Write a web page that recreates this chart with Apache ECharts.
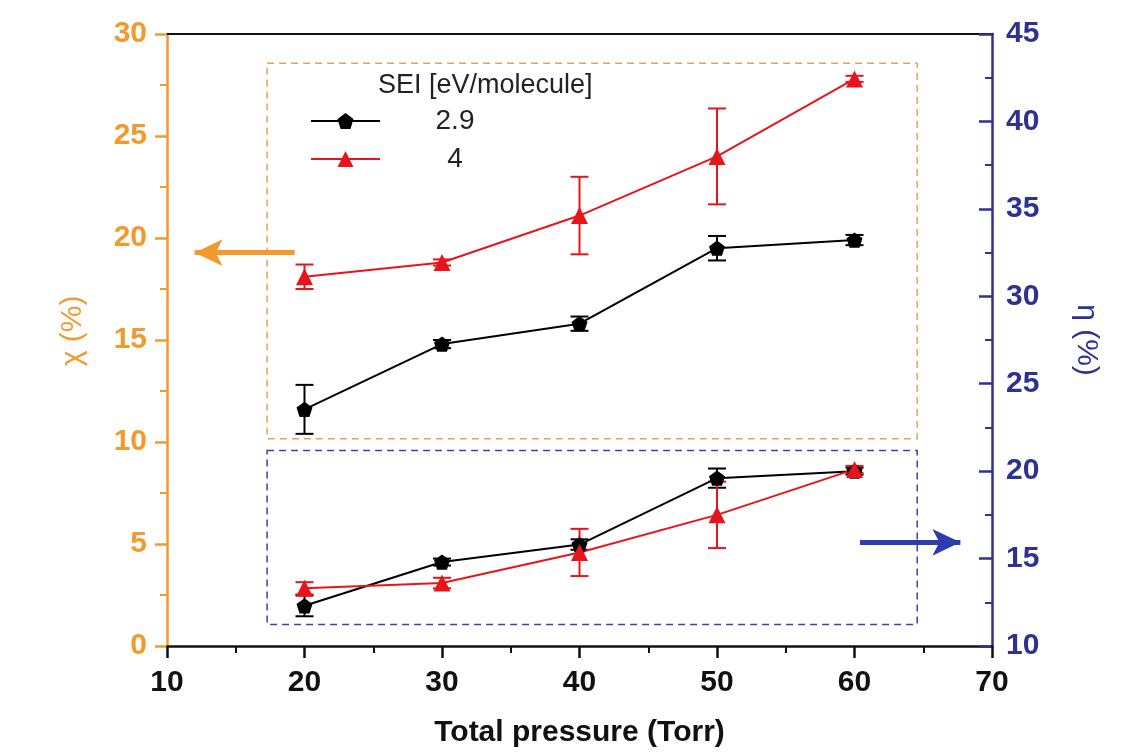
<!DOCTYPE html>
<html>
<head>
<meta charset="utf-8">
<script src="https://cdn.jsdelivr.net/npm/echarts@6/dist/echarts.min.js"></script>
<style>html,body{margin:0;padding:0;background:#fff}#c{width:1140px;height:753px}</style>
</head>
<body>
<div id="c"></div>
<script>
// ---- data ----
const pressure = [20, 30, 40, 50, 60];
const xTicks = [10, 20, 30, 40, 50, 60, 70];
const chiTicks = [0, 5, 10, 15, 20, 25, 30];
const etaTicks = [10, 15, 20, 25, 30, 35, 40, 45];
const seriesNames = ['2.9', '4'];
const chi29 = [11.6, 14.8, 15.8, 19.5, 19.9];
const chi29Err = [1.2, 0.2, 0.35, 0.6, 0.25];
const chi4 = [18.1, 18.8, 21.1, 24.0, 27.8];
const chi4Err = [0.6, 0.15, 1.9, 2.35, 0.15];
const eta29 = [12.3, 14.8, 15.8, 19.6, 20.0];
const eta29Err = [0.6, 0.2, 0.3, 0.55, 0.2];
const eta4 = [13.3, 13.6, 15.35, 17.5, 20.1];
const eta4Err = [0.35, 0.3, 1.35, 1.9, 0.2];
// annotation boxes / arrows in data units (x, left axis y)
const chiBox = [[17.28, 28.57], [64.56, 10.16]];
const etaBox = [[17.28, 9.58], [64.56, 1.06]];
const leftArrow = [[19.29, 19.28], [12.01, 19.28]];
const rightArrow = [[60.4, 5.08], [67.7, 5.08]];

const ORANGE = '#F39A2E';
const BLUE = '#2E3192';
const RED = '#E8141C';
const FONT = 'Liberation Sans, Arial, sans-serif';
const pentagon = 'path://M0,-10 L9.51,-3.09 L5.88,8.09 L-5.88,8.09 L-9.51,-3.09 Z';

function errSeries(vals, errs, color, yIdx) {
  return {
    type: 'custom', name: 'err', yAxisIndex: yIdx, z: 2, silent: true,
    data: pressure.map((p, i) => [p, vals[i], errs[i]]),
    encode: { x: 0, y: 1 },
    renderItem: function (params, api) {
      const x = api.value(0), y = api.value(1), e = api.value(2);
      const t = api.coord([x, y + e]), b = api.coord([x, y - e]);
      const hw = 9;
      const st = { stroke: color, lineWidth: 2 };
      return { type: 'group', children: [
        { type: 'line', shape: { x1: t[0], y1: t[1], x2: b[0], y2: b[1] }, style: st },
        { type: 'line', shape: { x1: t[0] - hw, y1: t[1], x2: t[0] + hw, y2: t[1] }, style: st },
        { type: 'line', shape: { x1: b[0] - hw, y1: b[1], x2: b[0] + hw, y2: b[1] }, style: st }
      ]};
    }
  };
}

function lineSeries(name, vals, color, yIdx, symbol, size, extra) {
  return Object.assign({
    type: 'line', name: name, yAxisIndex: yIdx, z: 3,
    data: pressure.map((p, i) => [p, vals[i]]),
    symbol: symbol, symbolSize: size, symbolKeepAspect: true,
    lineStyle: { color: color, width: 2 },
    itemStyle: { color: color, borderWidth: 0 },
    emphasis: { disabled: true }
  }, extra || {});
}

const chart = echarts.init(document.getElementById('c'), null, { renderer: 'canvas' });
chart.setOption({
  animation: false,
  backgroundColor: '#fff',
  textStyle: { fontFamily: FONT },
  grid: { left: 167, right: 148, top: 34, bottom: 106 },
  title: {
    text: 'SEI [eV/molecule]', left: 373, top: 67,
    textStyle: { fontFamily: FONT, fontSize: 27, fontWeight: 'normal', color: '#222' }
  },
  legend: {
    data: seriesNames, orient: 'vertical', left: 305, top: 102,
    itemWidth: 69, itemHeight: 20, itemGap: 10,
    formatter: '{a|{name}}',
    textStyle: { rich: { a: { width: 140, align: 'center', fontSize: 28, lineHeight: 22, color: '#222', fontFamily: FONT } } }
  },
  xAxis: [{
    type: 'value', min: 10, max: 70, interval: 10,
    name: 'Total pressure (Torr)', nameLocation: 'middle', nameGap: 72,
    nameTextStyle: { fontSize: 30, fontWeight: 'bold', color: '#111', fontFamily: FONT },
    axisLine: { lineStyle: { color: '#111', width: 2.5 } },
    axisTick: { show: true, length: 12, lineStyle: { color: '#111', width: 2.5 } },
    minorTick: { show: true, splitNumber: 2, length: 7, lineStyle: { color: '#111', width: 2 } },
    axisLabel: { fontSize: 30, fontWeight: 'bold', color: '#111', margin: 22, fontFamily: FONT,
      formatter: v => xTicks.includes(v) ? String(v) : '' },
    splitLine: { show: false }
  }, {
    type: 'value', min: 10, max: 70, position: 'top',
    axisLine: { show: true, onZero: false, lineStyle: { color: '#111', width: 2 } },
    axisTick: { show: false }, axisLabel: { show: false }, splitLine: { show: false }
  }],
  yAxis: [{
    type: 'value', min: 0, max: 30, interval: 5, position: 'left',
    name: 'χ (%)', nameLocation: 'middle', nameRotate: 90, nameGap: 79,
    nameTextStyle: { fontSize: 30, color: ORANGE, fontFamily: FONT, padding: [0, 0, 0, 18] },
    axisLine: { show: true, lineStyle: { color: ORANGE, width: 2.5 } },
    axisTick: { show: true, length: 12, lineStyle: { color: ORANGE, width: 2.5 } },
    minorTick: { show: true, splitNumber: 2, length: 7, lineStyle: { color: ORANGE, width: 2 } },
    axisLabel: { fontSize: 30, fontWeight: 'bold', color: ORANGE, margin: 20, fontFamily: FONT,
      formatter: v => chiTicks.includes(v) ? String(v) : '' },
    splitLine: { show: false }
  }, {
    type: 'value', min: 10, max: 45, interval: 5, position: 'right',
    name: 'η (%)', nameLocation: 'middle', nameRotate: -90, nameGap: 79,
    nameTextStyle: { fontSize: 30, color: BLUE, fontFamily: FONT },
    axisLine: { show: true, lineStyle: { color: BLUE, width: 2.5 } },
    axisTick: { show: true, inside: true, length: 13, lineStyle: { color: BLUE, width: 2.5 } },
    minorTick: { show: true, splitNumber: 2, length: 7, lineStyle: { color: BLUE, width: 2 } },
    axisLabel: { fontSize: 30, fontWeight: 'bold', color: BLUE, margin: 14, fontFamily: FONT,
      formatter: v => etaTicks.includes(v) ? String(v) : '' },
    splitLine: { show: false }
  }],
  series: [
    errSeries(chi29, chi29Err, '#000', 0),
    errSeries(chi4, chi4Err, RED, 0),
    errSeries(eta29, eta29Err, '#000', 1),
    errSeries(eta4, eta4Err, RED, 1),
    lineSeries('2.9', chi29, '#000', 0, pentagon, 16, {
      markArea: {
        silent: true,
        data: [
          [{ coord: chiBox[0], itemStyle: { color: 'rgba(0,0,0,0)', borderColor: '#E3A451', borderWidth: 1.5, borderType: [7, 5] } }, { coord: chiBox[1] }],
          [{ coord: etaBox[0], itemStyle: { color: 'rgba(0,0,0,0)', borderColor: '#3B40B5', borderWidth: 1.5, borderType: [7, 5] } }, { coord: etaBox[1] }]
        ]
      },
      markLine: {
        silent: true, symbol: ['none', 'arrow'], symbolSize: [20, 28],
        label: { show: false },
        data: [
          [{ coord: leftArrow[0], lineStyle: { color: ORANGE, width: 5, type: 'solid' } }, { coord: leftArrow[1] }],
          [{ coord: rightArrow[0], lineStyle: { color: '#2F3BAE', width: 5, type: 'solid' } }, { coord: rightArrow[1] }]
        ]
      }
    }),
    lineSeries('4', chi4, RED, 0, 'triangle', 17),
    lineSeries('2.9', eta29, '#000', 1, pentagon, 16),
    lineSeries('4', eta4, RED, 1, 'triangle', 17)
  ]
});
</script>
</body>
</html>
